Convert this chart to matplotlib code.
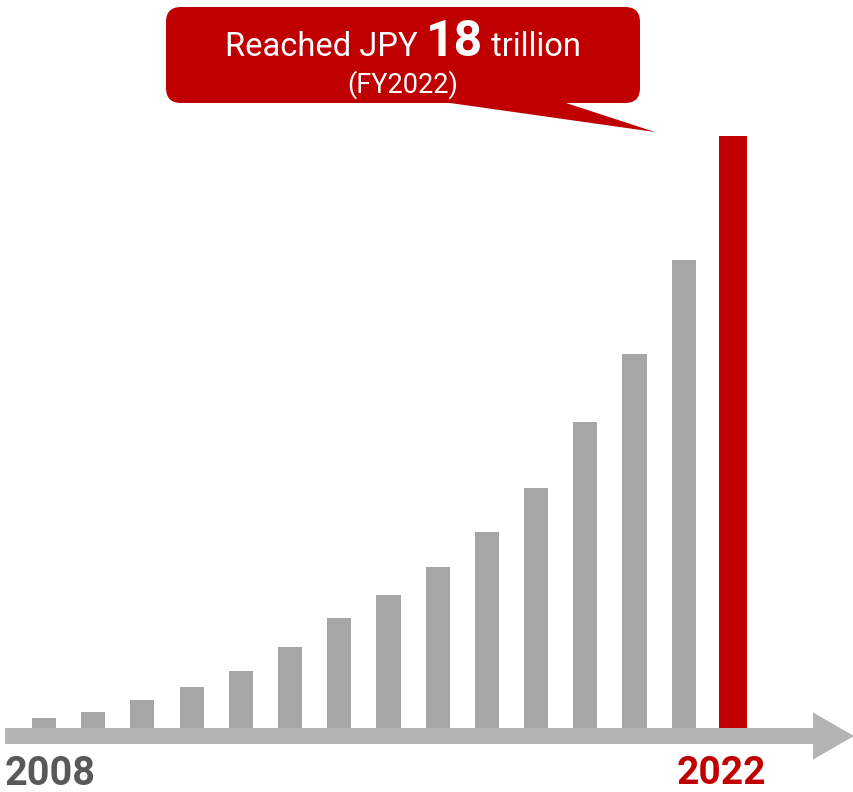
import matplotlib.pyplot as plt
import numpy as np
from matplotlib.patches import FancyArrow, FancyBboxPatch, Polygon

# Datos (billones de yenes por año fiscal)
years = list(range(2008, 2023))
values = [0.30, 0.49, 0.85, 1.25, 1.73, 2.46, 3.34, 4.04, 4.90, 5.96,
          7.30, 9.30, 11.37, 14.23, 18.0]

gray = '#a6a6a6'
red = '#c00000'
axis_gray = '#b4b4b4'

W, H = 854, 792
fig = plt.figure(figsize=(W / 100, H / 100), dpi=100)

# Ejes principales: la base de las barras queda a 728 px desde arriba
ax = fig.add_axes([0, 64 / H, 1, 728 / H])
ax.set_xlim(-0.894, 16.46)
ax.set_ylim(0, max(values) * 728 / 592)
ax.axis('off')

x = np.arange(len(years))
colors = [gray] * (len(years) - 1) + [red]
widths = [0.49] * (len(years) - 1) + [0.57]
ax.bar(x, values, width=widths, color=colors, zorder=3)

# Eje horizontal en forma de flecha
u = max(values) / 592  # unidades de datos por pixel vertical
arrow = FancyArrow(-0.79, -8 * u, 16.46 + 0.79, 0, width=16 * u,
                   head_width=47 * u, head_length=0.833,
                   length_includes_head=True, color=axis_gray,
                   lw=0, clip_on=False, zorder=2)
ax.add_patch(arrow)

ax.text(-0.79, -46 * u, str(years[0]), ha='left', va='center',
        fontsize=28.5, fontweight='bold', color='#595959', family='Roboto')
ax.text(x[-1] - 0.24, -46 * u, str(years[-1]), ha='center', va='center',
        fontsize=28, fontweight='bold', color=red, family='Roboto')

# Globo con el texto
ov = fig.add_axes([0, 0, 1, 1])
ov.set_xlim(0, W)
ov.set_ylim(H, 0)
ov.axis('off')

box = FancyBboxPatch((166, 7), 474, 96, boxstyle='round,pad=0,rounding_size=15',
                     fc=red, ec='none')
ov.add_patch(box)
ov.add_patch(Polygon([(443, 102), (563, 102), (655, 132)], closed=True,
                     fc=red, ec='none'))

fig.canvas.draw()
r = fig.canvas.get_renderer()
parts = [('Reached JPY ', 23.5, 'normal'), ('18', 36, 'bold'), (' trillion', 23.5, 'normal')]
texts = []
for s, fs, fw in parts:
    t = ov.text(0, 56, s, fontsize=fs, fontweight=fw, color='white',
                family='Roboto', ha='left', va='baseline')
    texts.append(t)
fig.canvas.draw()
ws = [t.get_window_extent(r).width for t in texts]
x0 = 403 - sum(ws) / 2
for t, w in zip(texts, ws):
    t.set_x(x0)
    x0 += w

ov.text(403, 93, '(FY2022)', fontsize=19.5, fontweight='normal', color='white',
        family='Roboto', ha='center', va='baseline')

fig.savefig('out.png', dpi=100)
